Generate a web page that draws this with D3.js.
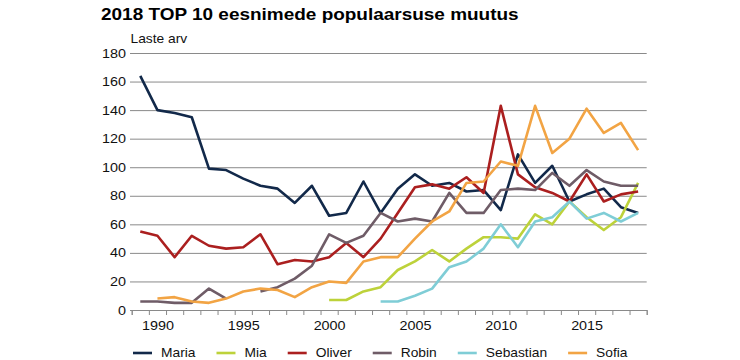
<!DOCTYPE html>
<html><head><meta charset="utf-8">
<script src="https://cdn.jsdelivr.net/npm/d3@7"></script>
<style>body{margin:0;background:#fff;} svg{display:block;font-family:"Liberation Sans",Arial,sans-serif;}</style>
</head><body>
<svg id="c" width="740" height="360"></svg>
<script>
const years = [1989,1990,1991,1992,1993,1994,1995,1996,1997,1998,1999,2000,2001,2002,2003,2004,2005,2006,2007,2008,2009,2010,2011,2012,2013,2014,2015,2016,2017,2018];
const names = ["Maria","Mia","Oliver","Robin","Sebastian","Sofia"];
const maria = [164,140,138,135,99,98,92,87,85,75,87,66,68,90,68,85,95,87,89,83,84,70,109,89,101,76,81,85,72,68];
const mia = [null,null,null,null,null,null,null,null,null,null,null,7,7,13,16,28,34,42,34,43,51,51,50,67,60,76,65,56,65,89];
const oliver = [55,52,37,52,45,43,44,53,32,35,34,37,47,37,50,68,86,88,85,93,82,143,95,86,82,76,95,76,81,83];
const robin = [6,6,5,5,15,8,null,13,16,22,31,53,47,52,68,62,64,62,82,68,68,84,85,84,96,87,98,90,87,87];
const sebastian = [null,null,null,null,null,null,null,null,null,null,null,null,null,null,6,6,10,15,30,34,43,60,44,62,65,76,64,68,62,68];
const sofia = [null,8,9,6,5,8,13,15,14,9,16,20,19,34,37,37,50,62,69,89,90,104,101,143,110,120,141,124,131,112];
const colors = ["#12294a","#bdd23a","#ab1f1f","#6f5c67","#7fcdd6","#f2a444"];
const yTicks = [0,20,40,60,80,100,120,140,160,180];
const xLabelYears = [1990,1995,2000,2005,2010,2015];
const title = "2018 TOP 10 eesnimede populaarsuse muutus";
const yTitle = "Laste arv";

const series = [maria, mia, oliver, robin, sebastian, sofia];
const SX = 1.15; // horizontal text stretch seen in the reference
const svg = d3.select("#c");
const L = 131.7, R = 646.7, T = 53, B = 310;
const x = d3.scaleLinear().domain([years[0]-0.5, years[years.length-1]+0.5]).range([L, R]);
const y = d3.scaleLinear().domain([0, 180]).range([B, T]);

// title
svg.append("text").attr("transform", `translate(101,20) scale(${SX},1)`)
  .attr("font-size", 16.5).attr("font-weight", "bold").attr("fill", "#000").text(title);
svg.append("text").attr("transform", `translate(130.5,43) scale(${SX},1)`)
  .attr("font-size", 12).attr("fill", "#111").text(yTitle);

// y gridlines + labels
const gy = svg.append("g").attr("transform", `translate(${L-1.7},0)`)
  .call(d3.axisLeft(y).tickValues(yTicks).tickSize(-(R - L + 1.7)).tickPadding(4));
gy.select(".domain").remove();
gy.selectAll(".tick line").attr("stroke", "#8a8a8a").attr("stroke-width", 1);
gy.selectAll(".tick text").attr("font-size", 12.5).attr("fill", "#111")
  .attr("font-family", "Liberation Sans, Arial, sans-serif")
  .attr("transform", `scale(${SX},1)`).attr("x", -4/SX);

// x axis ticks at category boundaries
const bounds = years.map(d => d - 0.5).concat([years[years.length-1] + 0.5]);
const gxt = svg.append("g").attr("transform", `translate(0,${B})`)
  .call(d3.axisBottom(x).tickValues(bounds).tickSize(5).tickFormat(""));
gxt.select(".domain").attr("stroke", "#8a8a8a");
gxt.selectAll(".tick line").attr("stroke", "#8a8a8a");

const gxl = svg.append("g").attr("transform", `translate(0,${B})`)
  .call(d3.axisBottom(x).tickValues(xLabelYears).tickSize(0).tickPadding(11).tickFormat(d3.format("d")));
gxl.select(".domain").remove();
gxl.selectAll(".tick text").attr("font-size", 12.5).attr("fill", "#111")
  .attr("font-family", "Liberation Sans, Arial, sans-serif")
  .attr("transform", `scale(${SX},1)`);

// lines
const line = d3.line().defined(d => d.v != null).x(d => x(d.yr)).y(d => y(d.v));
series.forEach((s, i) => {
  svg.append("path")
    .datum(years.map((yr, j) => ({yr, v: s[j]})))
    .attr("d", line).attr("fill", "none").attr("stroke", colors[i])
    .attr("stroke-width", 2.6).attr("stroke-linejoin", "round").attr("stroke-linecap", "butt");
});

// legend
const lg = svg.append("g");
let cx = 133;
const gap = 21;
names.forEach((n, i) => {
  const g = lg.append("g");
  g.append("line").attr("x1", cx).attr("x2", cx + 19).attr("y1", 353).attr("y2", 353)
    .attr("stroke", colors[i]).attr("stroke-width", 2.6);
  const t = g.append("text").attr("transform", `translate(${cx + 28},357) scale(${SX},1)`)
    .attr("font-size", 12).attr("fill", "#111").text(n);
  const w = t.node().getComputedTextLength() * SX;
  cx += 28 + w + gap;
});
</script>
</body></html>
